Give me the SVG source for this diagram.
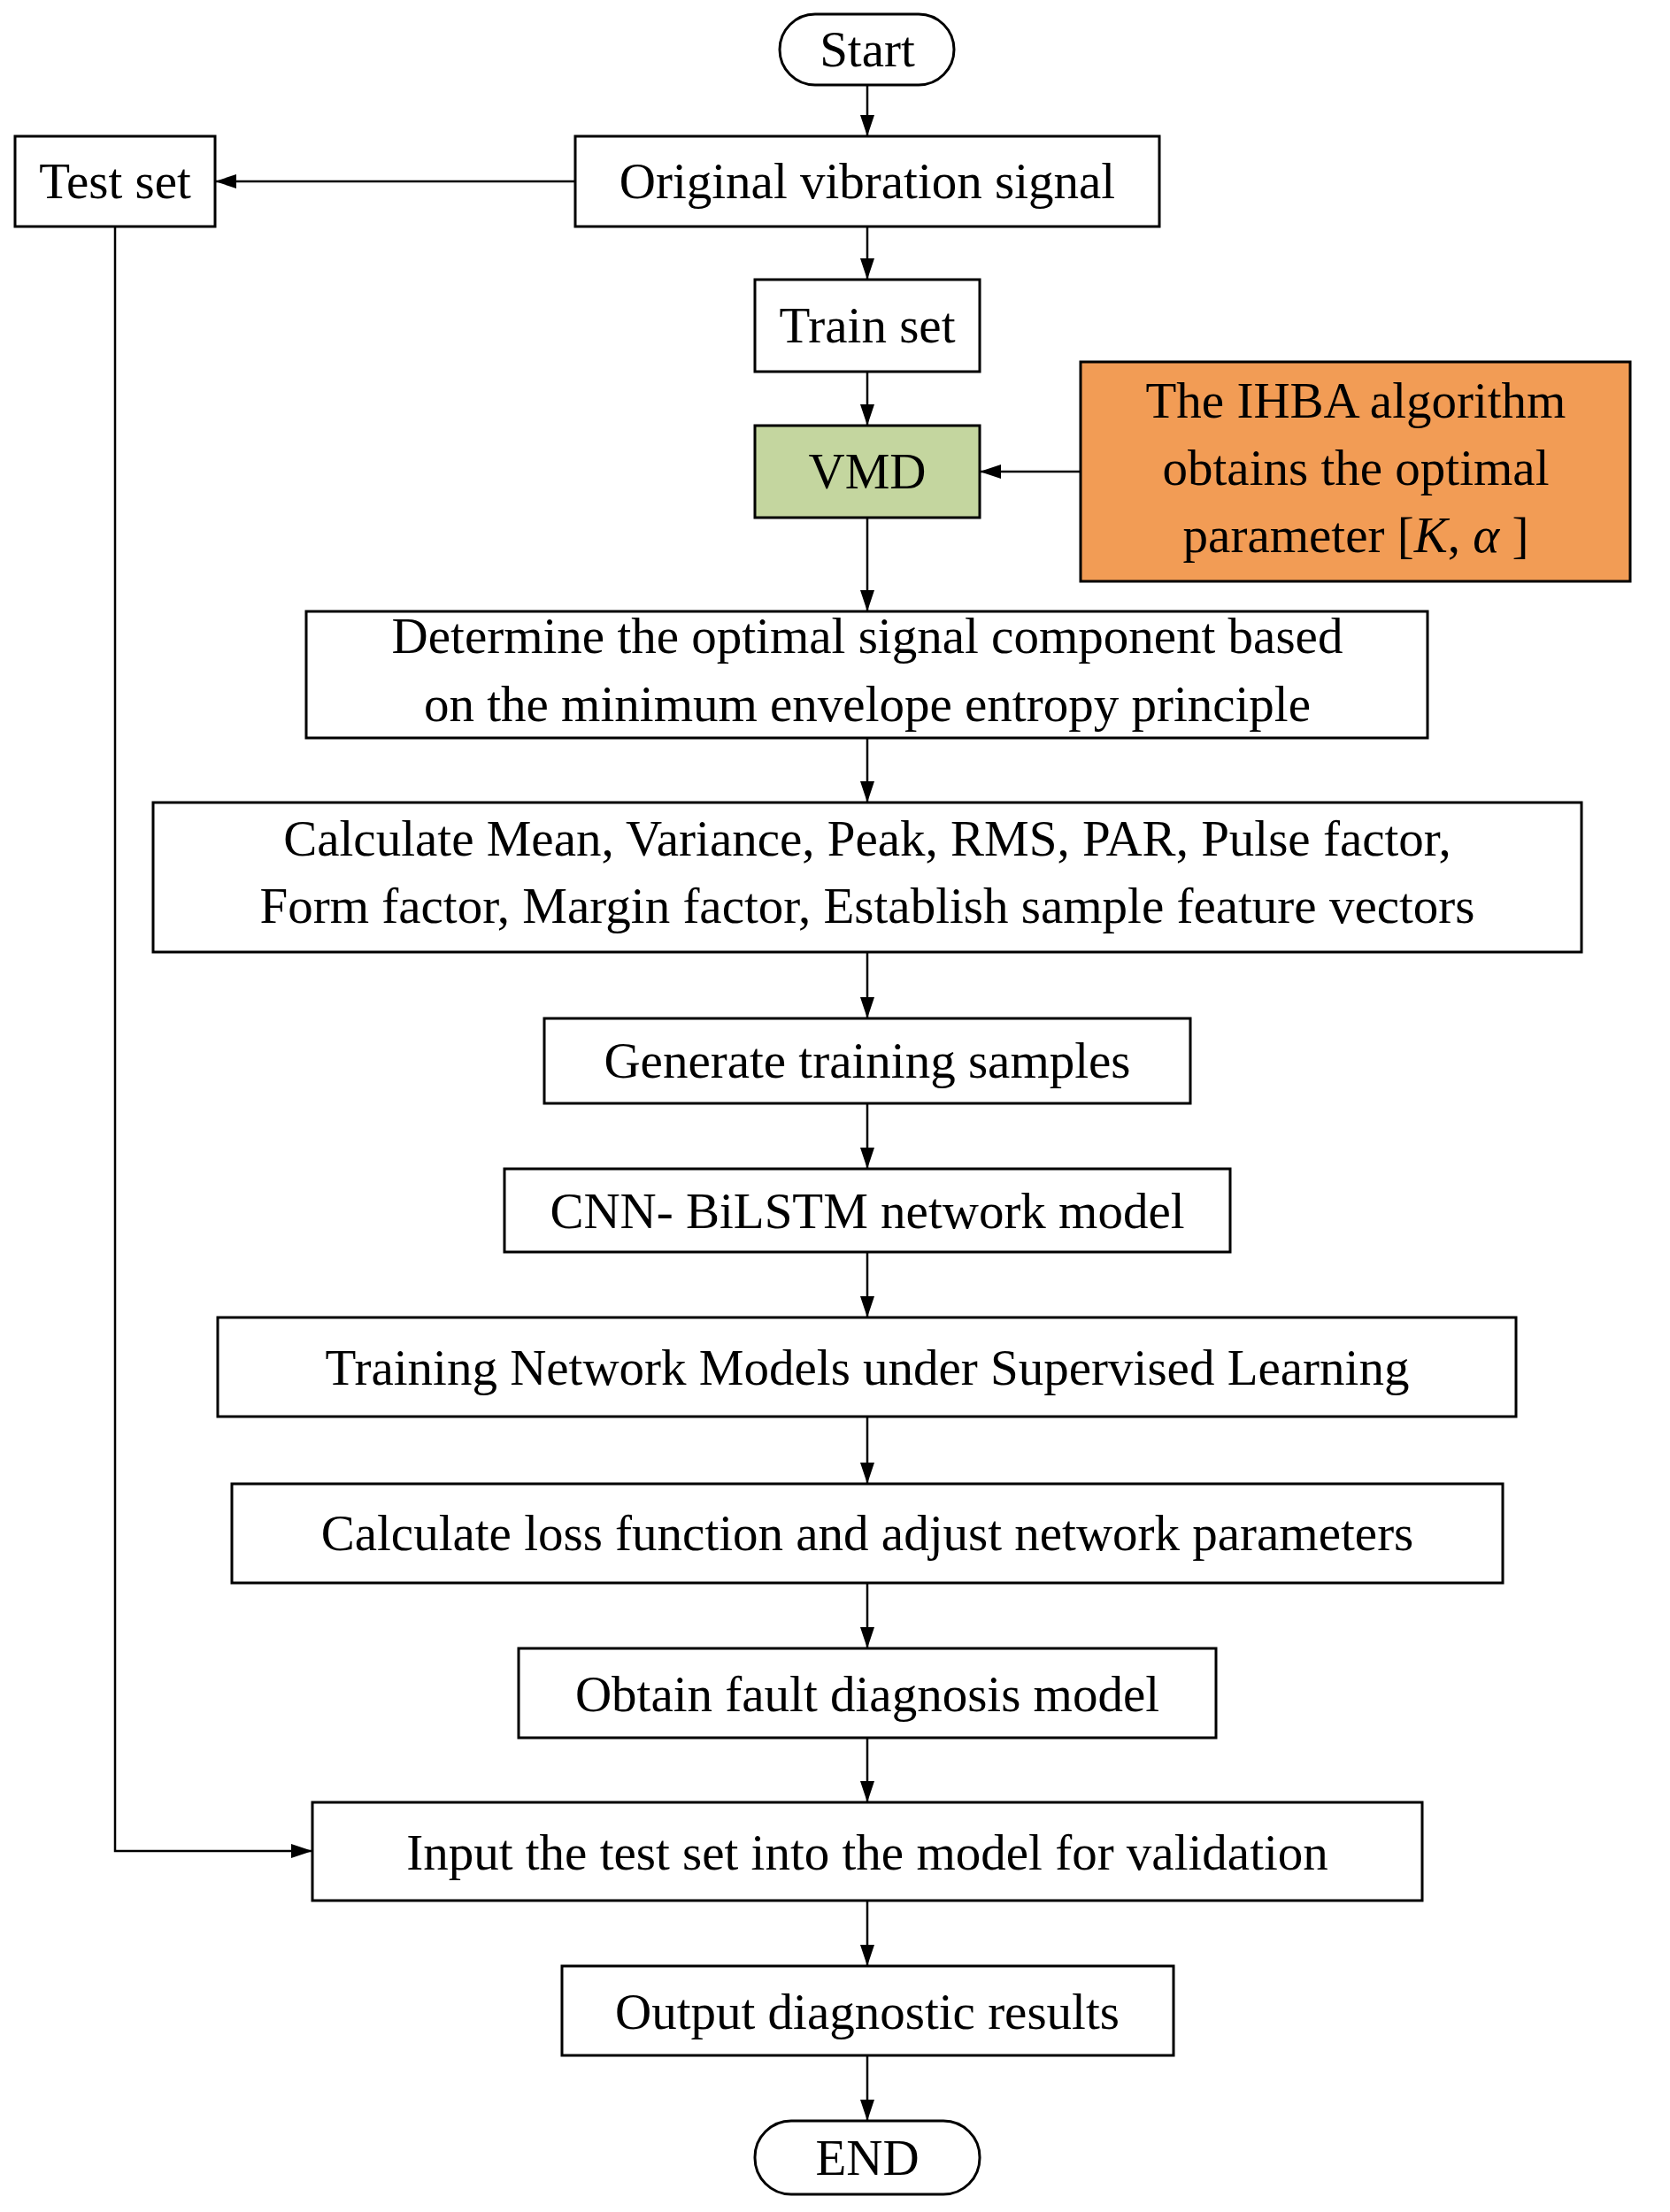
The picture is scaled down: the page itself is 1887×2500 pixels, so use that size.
<svg xmlns="http://www.w3.org/2000/svg" width="1887" height="2500" viewBox="0 0 1887 2500">
<style>
.b{fill:#fff;stroke:#000;stroke-width:3}
text{font-family:"Liberation Serif","Times New Roman",serif;font-size:57px;text-anchor:middle;fill:#000}
.c line,.c polyline{stroke:#000;stroke-width:2.5;fill:none}
</style>
<defs><marker id="a" markerWidth="12" markerHeight="10" refX="12" refY="5" orient="auto" markerUnits="userSpaceOnUse"><path d="M0,0L12,5L0,10z" fill="#000"/></marker>
<marker id="ah" markerWidth="24" markerHeight="16" refX="24" refY="8" orient="auto" markerUnits="userSpaceOnUse"><path d="M0,0L24,8L0,16z" fill="#000"/></marker></defs>
<rect width="1887" height="2500" fill="#fff"/>
<g class="c">
<line x1="980" y1="96" x2="980" y2="154" marker-end="url(#ah)"/>
<line x1="650" y1="205" x2="243" y2="205" marker-end="url(#ah)"/>
<line x1="980" y1="256" x2="980" y2="316" marker-end="url(#ah)"/>
<line x1="980" y1="420" x2="980" y2="481" marker-end="url(#ah)"/>
<line x1="1221" y1="533" x2="1107" y2="533" marker-end="url(#ah)"/>
<line x1="980" y1="585" x2="980" y2="691" marker-end="url(#ah)"/>
<line x1="980" y1="834" x2="980" y2="907" marker-end="url(#ah)"/>
<line x1="980" y1="1076" x2="980" y2="1151" marker-end="url(#ah)"/>
<line x1="980" y1="1247" x2="980" y2="1321" marker-end="url(#ah)"/>
<line x1="980" y1="1415" x2="980" y2="1489" marker-end="url(#ah)"/>
<line x1="980" y1="1601" x2="980" y2="1677" marker-end="url(#ah)"/>
<line x1="980" y1="1789" x2="980" y2="1863" marker-end="url(#ah)"/>
<line x1="980" y1="1964" x2="980" y2="2037" marker-end="url(#ah)"/>
<polyline points="130,256 130,2092 353,2092" marker-end="url(#ah)"/>
<line x1="980" y1="2148" x2="980" y2="2222" marker-end="url(#ah)"/>
<line x1="980" y1="2323" x2="980" y2="2397" marker-end="url(#ah)"/>
</g>
<g id="start"><rect class="b" x="881" y="16" width="197" height="80" rx="40"/><text x="980" y="75">Start</text></g>
<g id="orig"><rect class="b" x="650" y="154" width="660" height="102"/><text x="980" y="224">Original vibration signal</text></g>
<g id="test"><rect class="b" x="17" y="154" width="226" height="102"/><text x="130" y="224">Test set</text></g>
<g id="train"><rect class="b" x="853" y="316" width="254" height="104"/><text x="980" y="387">Train set</text></g>
<g id="vmd"><rect class="b" x="853" y="481" width="254" height="104" fill="#c4d69f" style="fill:#c4d69f"/><text x="980" y="552">VMD</text></g>
<g id="ihba"><rect class="b" x="1221" y="409" width="621" height="248" style="fill:#f29c55"/><text x="1532" y="472">The IHBA algorithm</text><text x="1532" y="548">obtains the optimal</text><text x="1532" y="624">parameter [<tspan font-style="italic">K</tspan>, <tspan font-style="italic">α</tspan> ]</text></g>
<g id="det"><rect class="b" x="346" y="691" width="1267" height="143"/><text x="980" y="738">Determine the optimal signal component based</text><text x="980" y="815">on the minimum envelope entropy principle</text></g>
<g id="calc"><rect class="b" x="173" y="907" width="1614" height="169"/><text x="980" y="967">Calculate Mean, Variance, Peak, RMS, PAR, Pulse factor,</text><text x="980" y="1043">Form factor, Margin factor, Establish sample feature vectors</text></g>
<g id="gen"><rect class="b" x="615" y="1151" width="730" height="96"/><text x="980" y="1218">Generate training samples</text></g>
<g id="cnn"><rect class="b" x="570" y="1321" width="820" height="94"/><text x="980" y="1388">CNN- BiLSTM network model</text></g>
<g id="trn"><rect class="b" x="246" y="1489" width="1467" height="112"/><text x="980" y="1565">Training Network Models under Supervised Learning</text></g>
<g id="loss"><rect class="b" x="262" y="1677" width="1436" height="112"/><text x="980" y="1752">Calculate loss function and adjust network parameters</text></g>
<g id="obt"><rect class="b" x="586" y="1863" width="788" height="101"/><text x="980" y="1934">Obtain fault diagnosis model</text></g>
<g id="inp"><rect class="b" x="353" y="2037" width="1254" height="111"/><text x="980" y="2113">Input the test set into the model for validation</text></g>
<g id="out"><rect class="b" x="635" y="2222" width="691" height="101"/><text x="980" y="2293">Output diagnostic results</text></g>
<g id="end"><rect class="b" x="853" y="2397" width="254" height="83" rx="41"/><text x="980" y="2458">END</text></g>
</svg>
